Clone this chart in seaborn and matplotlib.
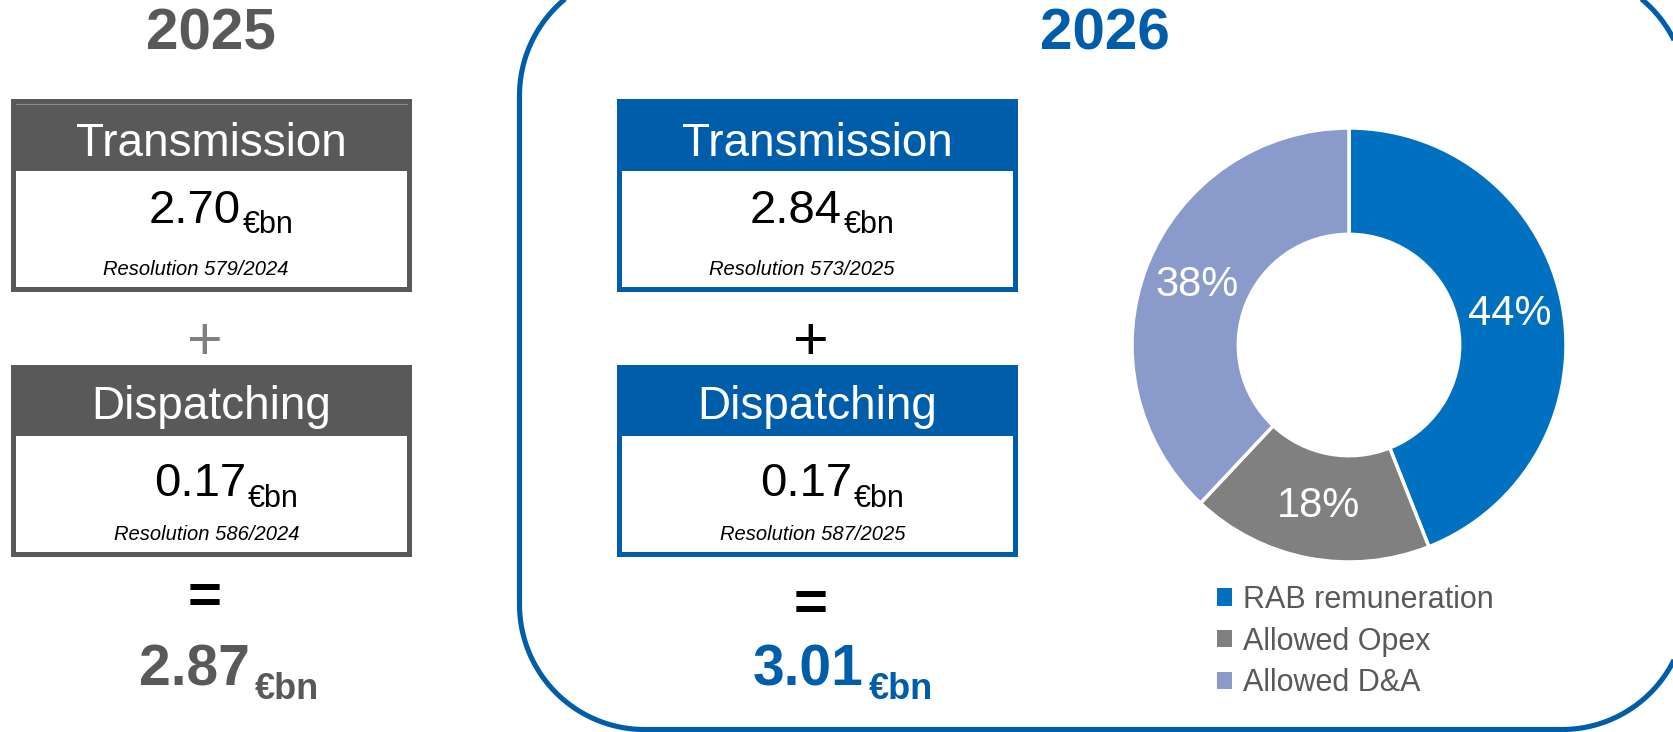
import numpy as np
import matplotlib.pyplot as plt
from matplotlib.patches import Rectangle, Polygon, Patch
import seaborn as sns

# values
years = ["2025", "2026"]
transmission = [2.70, 2.84]
dispatching = [0.17, 0.17]
totals = [2.87, 3.01]
trans_resolutions = ["Resolution 579/2024", "Resolution 573/2025"]
disp_resolutions = ["Resolution 586/2024", "Resolution 587/2025"]

share_labels = ["RAB remuneration", "Allowed Opex", "Allowed D&A"]
shares = [44, 18, 38]

sns.set_theme(style="white")
plt.rcParams['font.family'] = ['Liberation Sans', 'DejaVu Sans']

GREY = "#595959"
BLUE = "#005DAA"
share_colors = ["#0070C0", "#808080", "#8A9ACB"]
col_colors = [GREY, BLUE]
plus_colors = ["#808080", "black"]
col_x = [11, 617]
title_x = [211, 1105]
trans_split = [230, 225]
total_split = [239, 247]
eq_y = [593, 600]

fig = plt.figure(figsize=(16.74, 7.32), dpi=100)
ax = fig.add_axes([0, 0, 1, 1])
ax.set_xlim(0, 1674)
ax.set_ylim(732, 0)
ax.axis('off')


def rounded_frame(x0, y0, x1, y1, rad):
    corners = [((x0 + rad, y0 + rad), np.pi, 1.5 * np.pi),
               ((x1 - rad, y0 + rad), 1.5 * np.pi, 2 * np.pi),
               ((x1 - rad, y1 - rad), 0, 0.5 * np.pi),
               ((x0 + rad, y1 - rad), 0.5 * np.pi, np.pi)]
    pts = []
    for (cx, cy), a0, a1 in corners:
        t = np.linspace(a0, a1, 60)
        pts.append(np.column_stack([cx + rad * np.cos(t), cy + rad * np.sin(t)]))
    return np.vstack(pts)


# rounded frame around the 2026 block
ax.add_patch(Polygon(rounded_frame(519.5, -29.5, 1687, 729.5, 125), closed=True,
                     fill=False, edgecolor=BLUE, linewidth=3.7))


def draw_box(x0, top, bottom, head_bottom, color, title, title_base):
    ax.add_patch(Rectangle((x0, top), 401, bottom - top, facecolor=color, edgecolor='none'))
    ax.add_patch(Rectangle((x0 + 5, head_bottom), 391, bottom - 5 - head_bottom,
                           facecolor='white', edgecolor='none'))
    ax.text(x0 + 200.5, title_base, title, color='white', fontsize=33,
            ha='center', va='baseline')


def draw_value(split, base, value, color, size, unit_size, drop, weight='normal', gap=2):
    ax.text(split, base, f"{value:.2f}", ha='right', va='baseline',
            fontsize=size, color=color, weight=weight)
    ax.text(split + gap, base + drop, "€bn", ha='left', va='baseline',
            fontsize=unit_size, color=color, weight=weight)


for i, x0 in enumerate(col_x):
    color = col_colors[i]
    ax.text(title_x[i], 50, years[i], ha='center', va='baseline',
            fontsize=42, weight='bold', color=color)

    # transmission
    draw_box(x0, 99, 292, 171, color, "Transmission", 156)
    if i == 0:
        ax.plot([x0 + 5, x0 + 396], [104, 104], color='#8a8a8a', lw=0.8)
    draw_value(x0 + trans_split[i], 223, transmission[i], 'black', 34, 22, 10)
    ax.text(x0 + 185, 275, trans_resolutions[i], ha='center', va='baseline',
            fontsize=14.5, style='italic', color='black')

    ax.text(x0 + 194, 337, "+", ha='center', va='center_baseline',
            fontsize=44, color=plus_colors[i])

    # dispatching
    draw_box(x0, 365, 557, 436, color, "Dispatching", 419)
    draw_value(x0 + 235, 496, dispatching[i], 'black', 34, 22, 11)
    ax.text(x0 + 196, 540, disp_resolutions[i], ha='center', va='baseline',
            fontsize=14.5, style='italic', color='black')

    ax.text(x0 + 194, eq_y[i], "=", ha='center', va='center_baseline',
            fontsize=42, weight='bold', color='black')

    # total
    draw_value(x0 + total_split[i], 685, totals[i], color, 41, 26, 14, weight='bold', gap=5)

# donut of the 2026 revenue split
cx, cy, r = 1349, 345, 217
dax = fig.add_axes([(cx - r) / 1674, 1 - (cy + r) / 732, 2 * r / 1674, 2 * r / 732])
dax.pie(shares, colors=share_colors, startangle=90, counterclock=False,
        autopct=lambda p: f"{p:.0f}%", pctdistance=0.753,
        wedgeprops=dict(width=0.49, edgecolor='white', linewidth=2.5),
        textprops=dict(color='white', fontsize=30))
dax.set_xlim(-1, 1)
dax.set_ylim(-1, 1)
dax.set_aspect('equal')
dax.axis('off')

handles = [Patch(facecolor=c, edgecolor='none') for c in share_colors]
ax.legend(handles, share_labels, loc='upper left', bbox_to_anchor=(1217, 585),
          bbox_transform=ax.transData, frameon=False, fontsize=22, labelcolor=GREY,
          handlelength=0.5, handleheight=0.5, handletextpad=0.35,
          labelspacing=0.38, borderpad=0, borderaxespad=0)

fig.savefig('out.png', dpi=100)
